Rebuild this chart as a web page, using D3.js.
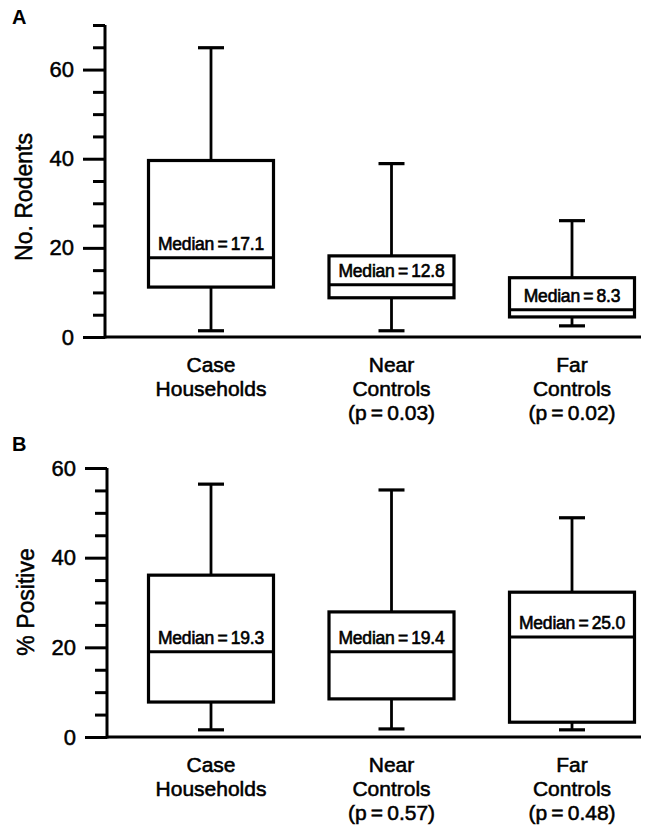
<!DOCTYPE html>
<html>
<head>
<meta charset="utf-8">
<script src="https://cdn.jsdelivr.net/npm/d3@7"></script>
<style>
  html, body { margin: 0; padding: 0; background: #fff; }
  svg { display: block; }
  text { font-family: "Liberation Sans", Arial, Helvetica, sans-serif; fill: #000; }
</style>
</head>
<body>
<script>
// ---------- data ----------
const categories = ["Case", "Near", "Far"];
const categoryLines = [["Case", "Households"], ["Near", "Controls"], ["Far", "Controls"]];

// Panel A: No. Rodents
const rodentsLow = [1.4, 1.4, 2.5];
const rodentsQ1 = [11.2, 8.8, 4.5];
const rodentsMedian = [17.8, 11.7, 6.1];
const rodentsQ3 = [39.6, 18.2, 13.3];
const rodentsHigh = [64.9, 38.9, 26.1];
const rodentsMedianLabels = ["17.1", "12.8", "8.3"];
const rodentsP = [null, "0.03", "0.02"];
const rodentsMajorTicks = [0, 20, 40, 60];
const rodentsMinorTicks = [5, 10, 15, 25, 30, 35, 45, 50, 55, 65, 70];

// Panel B: % Positive
const positiveLow = [1.6, 1.8, 1.6];
const positiveQ1 = [7.8, 8.5, 3.3];
const positiveMedian = [19.0, 19.0, 22.3];
const positiveQ3 = [36.1, 27.9, 32.3];
const positiveHigh = [56.4, 55.1, 48.9];
const positiveMedianLabels = ["19.3", "19.4", "25.0"];
const positiveP = [null, "0.57", "0.48"];
const positiveMajorTicks = [0, 20, 40, 60];
const positiveMinorTicks = [5, 10, 15, 25, 30, 35, 45, 50, 55];

// ---------- layout ----------
const W = 650, H = 830;
const svg = d3.select("body").append("svg").attr("width", W).attr("height", H);

const x = d3.scalePoint().domain(categories).range([211, 572]);
const boxHalf = 62.5, capHalf = 13;
const plotRight = 641;

function panel(opts) {
  const g = svg.append("g");
  const y = d3.scaleLinear().domain(opts.domain).range(opts.range);
  const ax = opts.axisX;

  // minor ticks
  const minor = g.append("g").attr("transform", `translate(${ax},0)`)
    .call(d3.axisLeft(y).tickValues(opts.minor).tickSize(12).tickFormat(""));
  minor.select(".domain").remove();
  // major ticks
  const major = g.append("g").attr("transform", `translate(${ax},0)`)
    .call(d3.axisLeft(y).tickValues(opts.major).tickSize(22).tickPadding(9).tickSizeOuter(0));
  major.select(".domain").attr("stroke-width", 3).attr("d", `M0,${y.range()[0] + 1.5}V${y.range()[1]}`);
  g.selectAll(".tick line").attr("stroke", "#000").attr("stroke-width", 3);
  major.selectAll(".tick text").attr("font-size", 22).attr("fill", "#000")
    .attr("stroke", "#000").attr("stroke-width", 0.5);
  major.attr("font-family", null);
  minor.attr("font-family", null);

  // x axis baseline
  const xa = g.append("g").attr("transform", `translate(0,${y(0)})`)
    .call(d3.axisBottom(x).tickSize(0).tickFormat(""));
  xa.select(".domain").attr("stroke-width", 3).attr("d", `M${ax},0H${plotRight}`);

  // y title
  g.append("text")
    .attr("transform", `translate(${opts.titleX},${opts.titleY}) rotate(-90)`)
    .attr("text-anchor", "middle")
    .attr("font-size", 23)
    .attr("stroke", "#000").attr("stroke-width", 0.5)
    .text(opts.title);

  // panel letter
  g.append("text").attr("x", 12).attr("y", opts.letterY)
    .attr("font-size", 20).attr("font-weight", "bold").text(opts.letter);

  // boxes
  const boxes = g.selectAll(".box").data(categories).join("g").attr("class", "box");
  boxes.append("line")
    .attr("x1", d => x(d)).attr("x2", d => x(d))
    .attr("y1", (d, i) => y(opts.high[i])).attr("y2", (d, i) => y(opts.q3[i]))
    .attr("stroke", "#000").attr("stroke-width", 2.8);
  boxes.append("line")
    .attr("x1", d => x(d)).attr("x2", d => x(d))
    .attr("y1", (d, i) => y(opts.low[i])).attr("y2", (d, i) => y(opts.q1[i]))
    .attr("stroke", "#000").attr("stroke-width", 2.8);
  boxes.append("line")
    .attr("x1", d => x(d) - capHalf).attr("x2", d => x(d) + capHalf)
    .attr("y1", (d, i) => y(opts.high[i])).attr("y2", (d, i) => y(opts.high[i]))
    .attr("stroke", "#000").attr("stroke-width", 3.2);
  boxes.append("line")
    .attr("x1", d => x(d) - capHalf).attr("x2", d => x(d) + capHalf)
    .attr("y1", (d, i) => y(opts.low[i])).attr("y2", (d, i) => y(opts.low[i]))
    .attr("stroke", "#000").attr("stroke-width", 3.2);
  boxes.append("rect")
    .attr("x", d => x(d) - boxHalf).attr("width", boxHalf * 2)
    .attr("y", (d, i) => y(opts.q3[i]))
    .attr("height", (d, i) => y(opts.q1[i]) - y(opts.q3[i]))
    .attr("fill", "#fff").attr("stroke", "#000").attr("stroke-width", 3.2);
  boxes.append("line")
    .attr("x1", d => x(d) - boxHalf).attr("x2", d => x(d) + boxHalf)
    .attr("y1", (d, i) => y(opts.median[i])).attr("y2", (d, i) => y(opts.median[i]))
    .attr("stroke", "#000").attr("stroke-width", 3);
  boxes.append("text")
    .attr("x", d => x(d))
    .attr("y", (d, i) => y(opts.median[i]) - 8)
    .attr("text-anchor", "middle")
    .attr("font-size", 17.5)
    .attr("stroke", "#000").attr("stroke-width", 0.6)
    .attr("letter-spacing", -0.2)
    .text((d, i) => "Median\u2009=\u2009" + opts.medianLabels[i]);

  // category labels
  const labels = g.selectAll(".cat").data(categories).join("text")
    .attr("class", "cat")
    .attr("text-anchor", "middle")
    .attr("font-size", 21)
    .attr("stroke", "#000").attr("stroke-width", 0.55);
  labels.each(function (d, i) {
    const lines = categoryLines[i].slice();
    if (opts.p[i]) lines.push("(p\u2009=\u2009" + opts.p[i] + ")");
    d3.select(this).selectAll("tspan").data(lines).join("tspan")
      .attr("x", x(d))
      .attr("y", (l, j) => y(0) + 35 + j * 24)
      .text(l => l);
  });
}

panel({
  domain: [0, 70], range: [337, 25], axisX: 105,
  major: rodentsMajorTicks, minor: rodentsMinorTicks,
  low: rodentsLow, q1: rodentsQ1, median: rodentsMedian, q3: rodentsQ3, high: rodentsHigh,
  medianLabels: rodentsMedianLabels, p: rodentsP,
  title: "No. Rodents", titleX: 32, titleY: 197, letter: "A", letterY: 24
});

panel({
  domain: [0, 60], range: [737, 468], axisX: 107,
  major: positiveMajorTicks, minor: positiveMinorTicks,
  low: positiveLow, q1: positiveQ1, median: positiveMedian, q3: positiveQ3, high: positiveHigh,
  medianLabels: positiveMedianLabels, p: positiveP,
  title: "% Positive", titleX: 34, titleY: 602, letter: "B", letterY: 451
});
</script>
</body>
</html>
